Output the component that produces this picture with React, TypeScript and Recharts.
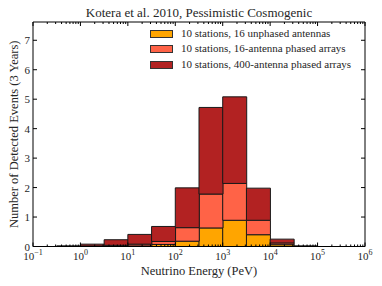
import { Bar, BarChart, Legend, XAxis, YAxis } from "recharts"

// half-decade bins, lower edge in log10(E / PeV)
const binEdges = [-1, -0.5, 0, 0.5, 1, 1.5, 2, 2.5, 3, 3.5, 4, 4.5, 5, 5.5]
const unphased = [0, 0, 0.005, 0.01, 0.02, 0.07, 0.18, 0.63, 0.89, 0.4, 0.06, 0.003, 0, 0]
const phased16 = [0, 0.005, 0.02, 0.04, 0.08, 0.17, 0.64, 1.78, 2.14, 0.89, 0.12, 0.006, 0, 0]
const phased400 = [0, 0.02, 0.08, 0.23, 0.41, 0.68, 1.99, 4.72, 5.08, 1.98, 0.25, 0.015, 0, 0]

const majorTicks = [-1, 0, 1, 2, 3, 4, 5, 6]
const yTicks = [0, 1, 2, 3, 4, 5, 6, 7]
const yMax = 7.62

const seriesNames = [
    "10 stations, 16 unphased antennas",
    "10 stations, 16-antenna phased arrays",
    "10 stations, 400-antenna phased arrays",
]
const colors = ["#ffa500", "#ff6347", "#b22222"]

const FONT = "'Liberation Serif', 'DejaVu Serif', serif"
const TEXT = "#262626"

// stacked pieces so each histogram's top lands on its own total
const data = binEdges.map((e, i) => ({
    bin: e,
    a: unphased[i],
    b: phased16[i] - unphased[i],
    c: phased400[i] - phased16[i],
}))

// matplotlib style log minor ticks (2..9 x 10^n)
const minorTicks: number[] = []
for (let n = -1; n < 6; n++) {
    for (let k = 2; k <= 9; k++) minorTicks.push(n + Math.log10(k))
}
const xTicks = [...majorTicks, ...minorTicks].sort((p, q) => p - q)

const BottomTick = (props: any) => {
    const { x, y, payload } = props
    const v = payload.value
    const major = Number.isInteger(v)
    return (
        <g>
            <line x1={x} x2={x} y1={y} y2={y - (major ? 4 : 2)} stroke="#000" />
            {major && (
                <text x={x} y={y + 13} textAnchor="middle" fontSize={11} fill={TEXT} fontFamily={FONT}>
                    10
                    <tspan dy={-5} fontSize={8}>{v < 0 ? "\u2212" + Math.abs(v) : v}</tspan>
                </text>
            )}
        </g>
    )
}

const TopTick = (props: any) => {
    const { x, y, payload } = props
    const major = Number.isInteger(payload.value)
    return <line x1={x} x2={x} y1={y} y2={y + (major ? 4 : 2)} stroke="#000" />
}

const LeftTick = (props: any) => {
    const { x, y, payload } = props
    return (
        <g>
            <line x1={x} x2={x + 4} y1={y} y2={y} stroke="#000" />
            <text x={x - 3} y={y + 4} textAnchor="end" fontSize={11} fill={TEXT} fontFamily={FONT}>
                {payload.value}
            </text>
        </g>
    )
}

const RightTick = (props: any) => {
    const { x, y } = props
    return <line x1={x} x2={x - 4} y1={y} y2={y} stroke="#000" />
}

const LegendBox = () => (
    <div style={{ fontFamily: FONT, fontSize: 11, color: TEXT, lineHeight: "15.4px" }}>
        {seriesNames.map((name, i) => (
            <div key={name} style={{ display: "flex", alignItems: "center" }}>
                <span
                    style={{
                        display: "inline-block",
                        width: 21,
                        height: 6,
                        background: colors[i],
                        border: "1px solid #333",
                        marginRight: 8,
                    }}
                />
                {name}
            </div>
        ))}
    </div>
)

export default function App() {
    return (
        <div style={{ position: "absolute", left: 0, top: 0, width: 382, height: 286, background: "#fff" }}>
            <BarChart
                width={382}
                height={286}
                data={data}
                margin={{ top: 0, right: 0, bottom: 0, left: 0 }}
                barCategoryGap={0}
                barGap={0}
            >
                <XAxis xAxisId="bins" dataKey="bin" type="category" hide height={0} />
                <XAxis
                    xAxisId="log"
                    dataKey="bin"
                    type="number"
                    domain={[-1, 6]}
                    allowDataOverflow
                    ticks={xTicks}
                    interval={0}
                    tick={<BottomTick />}
                    tickLine={false}
                    tickSize={0}
                    tickMargin={0}
                    height={39.5}
                    stroke="#000"
                    label={{
                        content: ({ viewBox }: any) => (
                            <text
                                x={viewBox.x + viewBox.width / 2}
                                y={viewBox.y + 28}
                                textAnchor="middle"
                                fontSize={12.5}
                                fill={TEXT}
                                fontFamily={FONT}
                            >
                                Neutrino Energy (PeV)
                            </text>
                        ),
                    }}
                />
                <XAxis
                    xAxisId="top"
                    orientation="top"
                    dataKey="bin"
                    type="number"
                    domain={[-1, 6]}
                    allowDataOverflow
                    ticks={xTicks}
                    interval={0}
                    tick={<TopTick />}
                    tickLine={false}
                    tickSize={0}
                    tickMargin={0}
                    height={22}
                    stroke="#000"
                    label={{
                        content: ({ viewBox }: any) => (
                            <text
                                x={viewBox.x + viewBox.width / 2}
                                y={17}
                                textAnchor="middle"
                                fontSize={13}
                                fill={TEXT}
                                fontFamily={FONT}
                            >
                                Kotera et al. 2010, Pessimistic Cosmogenic
                            </text>
                        ),
                    }}
                />
                <YAxis
                    yAxisId="left"
                    type="number"
                    domain={[0, yMax]}
                    allowDataOverflow
                    ticks={yTicks}
                    interval={0}
                    tick={<LeftTick />}
                    tickLine={false}
                    tickSize={0}
                    tickMargin={0}
                    width={33}
                    stroke="#000"
                    label={{
                        content: ({ viewBox }: any) => (
                            <text
                                x={14}
                                y={viewBox.y + viewBox.height / 2}
                                transform={`rotate(-90, 14, ${viewBox.y + viewBox.height / 2})`}
                                textAnchor="middle"
                                dominantBaseline="central"
                                fontSize={12.5}
                                fill={TEXT}
                                fontFamily={FONT}
                            >
                                Number of Detected Events (3 Years)
                            </text>
                        ),
                    }}
                />
                <YAxis
                    yAxisId="right"
                    orientation="right"
                    type="number"
                    domain={[0, yMax]}
                    allowDataOverflow
                    ticks={yTicks}
                    interval={0}
                    tick={<RightTick />}
                    tickLine={false}
                    tickSize={0}
                    tickMargin={0}
                    width={17}
                    stroke="#000"
                />
                <Legend
                    layout="vertical"
                    align="center"
                    verticalAlign="middle"
                    wrapperStyle={{ position: "absolute", left: 150, top: 26, width: 225 }}
                    content={<LegendBox />}
                />
                <Bar xAxisId="bins" yAxisId="left" dataKey="a" stackId="h" fill={colors[0]} stroke="#1a1a1a" strokeWidth={1} isAnimationActive={false} />
                <Bar xAxisId="bins" yAxisId="left" dataKey="b" stackId="h" fill={colors[1]} stroke="#1a1a1a" strokeWidth={1} isAnimationActive={false} />
                <Bar xAxisId="bins" yAxisId="left" dataKey="c" stackId="h" fill={colors[2]} stroke="#1a1a1a" strokeWidth={1} isAnimationActive={false} />
            </BarChart>
        </div>
    )
}
